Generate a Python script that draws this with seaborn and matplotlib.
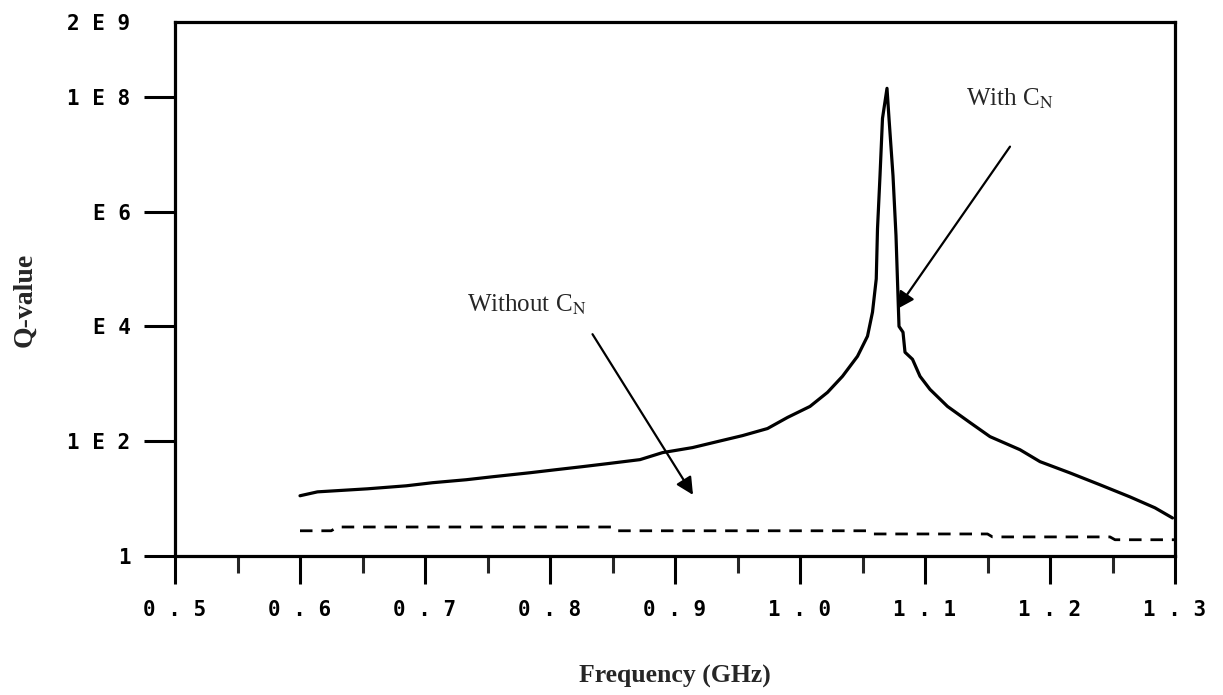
import numpy as np
import pandas as pd
import matplotlib
matplotlib.use("Agg")
import matplotlib.pyplot as plt
import seaborn as sns

# Q-value of the resonator with the neutralising capacitor C_N
freq_with = [0.600, 0.614, 0.654, 0.685, 0.706, 0.733, 0.754, 0.784, 0.805, 0.826,
             0.846, 0.872, 0.890, 0.914, 0.934, 0.954, 0.974, 0.990, 1.008, 1.022,
             1.034, 1.046, 1.054, 1.058, 1.061, 1.062, 1.064, 1.066, 1.0696, 1.0712,
             1.0744, 1.0768, 1.0792, 1.0824, 1.084, 1.090, 1.096, 1.104, 1.118, 1.136,
             1.152, 1.176, 1.192, 1.216, 1.240, 1.264, 1.284, 1.298]
q_with = [11.2, 13.1, 14.8, 16.7, 18.9, 21.3, 24.0, 28.2, 31.9, 36.0,
          40.6, 47.7, 63.2, 77.3, 98.4, 125, 166, 259, 403, 708,
          1350, 3010, 6740, 1.77e4, 6.7e4, 5.0e5, 4.2e6, 4.2e7, 1.4e8, 4.2e7,
          4.2e6, 3.8e5, 1.0e4, 7.9e3, 3540, 2670, 1350, 798, 403, 211,
          120, 71, 44, 28, 17.4, 10.7, 6.9, 4.6]

# Q-value without C_N
freq_without = [0.600, 0.625, 0.630, 0.700, 0.800, 0.849, 0.852, 0.950, 1.054,
                1.058, 1.150, 1.154, 1.248, 1.252, 1.300]
q_without = [2.75, 2.75, 3.2, 3.2, 3.2, 3.2, 2.75, 2.75, 2.75,
             2.42, 2.42, 2.15, 2.15, 1.92, 1.92]

x_ticks = [0.5, 0.6, 0.7, 0.8, 0.9, 1.0, 1.1, 1.2, 1.3]
x_labels = ["0 . 5", "0 . 6", "0 . 7", "0 . 8", "0 . 9", "1 . 0", "1 . 1", "1 . 2", "1 . 3"]
y_ticks = [1, 1e2, 1e4, 1e6, 1e8, 2e9]
y_labels = ["1", "1 E 2", "E 4", "E 6", "1 E 8", "2 E 9"]

sns.set_style("white")
plt.rcParams["font.family"] = ["Liberation Serif", "DejaVu Sans"]
plt.rcParams["mathtext.fontset"] = "stix"

df_with = pd.DataFrame({"f": freq_with, "q": q_with})
df_without = pd.DataFrame({"f": freq_without, "q": q_without})

fig = plt.figure(figsize=(12.23, 6.95), dpi=100)
ax = fig.add_axes([175 / 1223, 1 - 556 / 695, 1000 / 1223, (556 - 22) / 695])

sns.lineplot(data=df_with, x="f", y="q", ax=ax, color="black", lw=2.3,
             estimator=None, sort=False)
sns.lineplot(data=df_without, x="f", y="q", ax=ax, color="black", lw=2.0,
             estimator=None, sort=False, dashes=False)
ax.lines[-1].set_dashes((4.5, 3.2))

ax.set_yscale("log")
ax.set_xlim(0.5, 1.3)
ax.set_ylim(1, 2e9)

ax.set_xticks(x_ticks)
ax.set_xticklabels(x_labels)
ax.set_xticks([0.55, 0.65, 0.75, 0.85, 0.95, 1.05, 1.15, 1.25], minor=True)
ax.set_yticks(y_ticks)
ax.set_yticklabels(y_labels)
ax.yaxis.set_minor_locator(matplotlib.ticker.NullLocator())

for lab in ax.get_xticklabels() + ax.get_yticklabels():
    lab.set_fontfamily("DejaVu Sans Mono")
    lab.set_fontweight("bold")
    lab.set_fontsize(15)

ax.tick_params(axis="x", which="major", direction="out", length=20, width=2.2,
               bottom=True, pad=12, colors="black")
ax.tick_params(axis="x", which="minor", direction="out", length=12, width=2.2,
               bottom=True)
ax.tick_params(axis="y", which="major", direction="out", length=22, width=2.2,
               left=True, pad=10, colors="black")
ax.yaxis.get_major_ticks()[-1].tick1line.set_visible(False)

for sp in ax.spines.values():
    sp.set_visible(True)
    sp.set_color("black")
    sp.set_linewidth(2.3)

ax.set_xlabel("Frequency (GHz)", fontsize=18.5, fontweight="bold", labelpad=32)
ax.set_ylabel("Q-value", fontsize=20, fontweight="bold")
ax.yaxis.set_label_coords(-0.138, 0.48)

arrow = dict(arrowstyle="-|>", color="black", lw=1.6, mutation_scale=26,
             shrinkA=0, shrinkB=0)
ax.annotate("", xy=(1.0776, 2.0e4), xytext=(1.168, 1.35e7), arrowprops=arrow)
ax.text(1.168, 9.3e7, r"With C$_{\mathrm{N}}$", ha="center", va="center", fontsize=18)
ax.annotate("", xy=(0.9144, 11.6), xytext=(0.834, 7.3e3), arrowprops=arrow)
ax.text(0.7816, 2.4e4, r"Without C$_{\mathrm{N}}$", ha="center", va="center", fontsize=18)

fig.savefig("out.png", dpi=100)
